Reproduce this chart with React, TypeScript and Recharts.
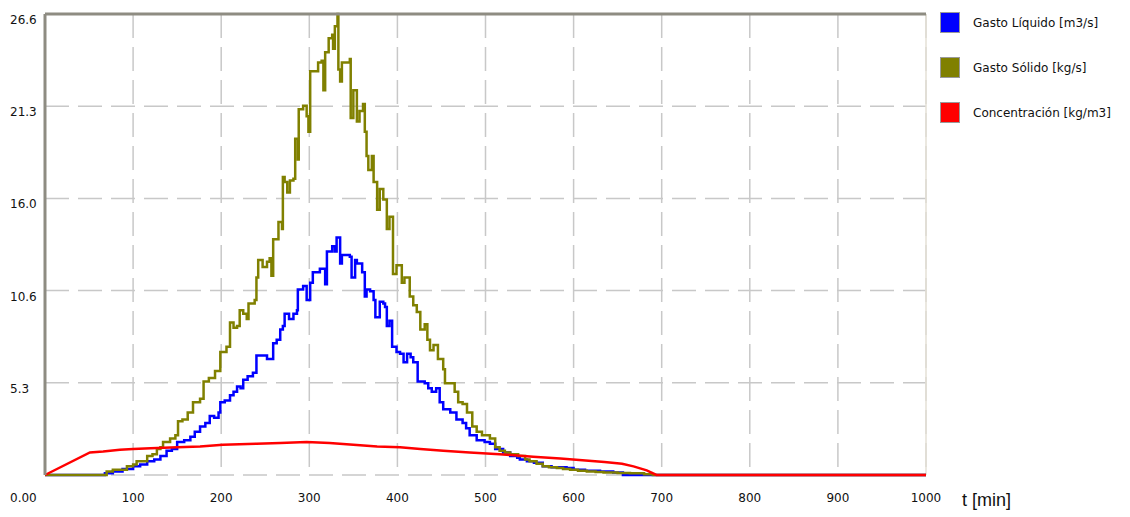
import { LineChart, Line, XAxis, YAxis, CartesianGrid, ReferenceLine } from 'recharts';

// Gasto líquido [m3/s]
const liquidT = [0, 60, 68, 77, 88, 100, 108, 116, 124, 131, 138, 144, 150, 158, 165, 170, 176, 182, 187, 192, 197, 199, 204, 210, 214, 218, 222, 225, 230, 236, 240, 248, 252, 255, 259, 263, 267, 270, 272, 277, 282, 286, 287, 293, 297, 301, 304, 312, 318, 320, 326, 329, 331, 335, 337, 346, 348, 352, 354, 360, 363, 365, 369, 373, 375, 380, 384, 386, 388, 391, 394, 399, 403, 407, 411, 415, 418, 423, 431, 435, 439, 444, 448, 452, 460, 467, 474, 478, 482, 490, 499, 505, 511, 520, 528, 536, 539, 547, 555, 565, 575, 592, 600, 613, 630, 645, 656, 1000];
const liquidV = [0, 0, 0.1, 0.2, 0.35, 0.5, 0.6, 0.8, 0.9, 1.1, 1.4, 1.5, 1.9, 2.0, 2.2, 2.5, 2.8, 3.0, 3.4, 3.3, 3.6, 4.2, 4.3, 4.6, 4.8, 5.1, 5.0, 5.5, 5.7, 5.9, 6.9, 6.9, 6.7, 6.7, 7.6, 7.8, 8.4, 8.6, 9.3, 9.0, 9.3, 9.5, 10.7, 10.9, 10.1, 11.1, 11.7, 11.9, 11.0, 12.9, 13.2, 12.9, 13.7, 12.2, 12.7, 12.6, 11.4, 12.4, 12.2, 11.7, 10.3, 10.7, 10.6, 10.1, 9.1, 10.0, 9.9, 9.7, 8.6, 8.9, 7.4, 7.1, 7.0, 6.5, 7.0, 6.8, 6.5, 5.4, 5.3, 5.0, 4.8, 5.0, 4.2, 3.8, 3.6, 3.2, 3.0, 2.7, 2.3, 2.0, 1.9, 1.8, 1.5, 1.3, 1.1, 1.0, 0.9, 0.8, 0.7, 0.5, 0.45, 0.4, 0.3, 0.25, 0.2, 0.15, 0, 0];

// Gasto sólido [kg/s]
const solidT = [0, 62, 70, 77, 93, 100, 104, 116, 122, 127, 131, 134, 142, 148, 151, 156, 162, 168, 176, 180, 186, 193, 199, 206, 210, 214, 218, 221, 225, 229, 231, 238, 240, 242, 247, 252, 255, 257, 259, 265, 269, 270, 272, 275, 278, 282, 284, 287, 288, 293, 297, 299, 301, 306, 310, 314, 316, 318, 322, 326, 327, 329, 332, 333, 335, 337, 346, 347, 350, 354, 357, 361, 363, 365, 367, 371, 373, 377, 380, 384, 388, 391, 395, 399, 405, 408, 414, 418, 422, 426, 431, 434, 437, 441, 446, 452, 454, 460, 465, 469, 474, 479, 485, 490, 496, 501, 505, 511, 516, 522, 528, 537, 545, 550, 558, 565, 572, 581, 588, 596, 605, 615, 625, 634, 650, 664, 680, 690, 1000];
const solidV = [0, 0, 0.2, 0.3, 0.5, 0.6, 0.8, 1.1, 1.2, 1.5, 1.6, 1.9, 2.1, 2.3, 3.1, 3.2, 3.6, 4.2, 4.4, 5.4, 5.6, 6.0, 7.1, 7.4, 8.8, 8.5, 8.6, 9.5, 9.3, 9.0, 9.9, 10.1, 11.4, 12.4, 12.0, 12.3, 12.5, 11.5, 13.6, 14.6, 14.2, 17.2, 16.9, 16.3, 17.0, 17.1, 19.4, 18.2, 21.1, 21.3, 20.7, 19.8, 23.3, 23.3, 23.8, 23.9, 22.2, 24.4, 25.2, 25.4, 24.6, 25.9, 26.6, 23.4, 22.7, 23.8, 24.0, 20.6, 22.2, 20.4, 21.0, 21.4, 19.8, 18.4, 17.6, 18.4, 16.9, 15.3, 16.5, 15.9, 14.2, 14.9, 11.6, 12.1, 11.1, 11.4, 10.3, 9.8, 9.4, 8.4, 8.7, 7.8, 7.2, 7.5, 6.7, 6.1, 5.3, 5.3, 4.8, 4.2, 4.1, 3.6, 2.8, 2.5, 2.3, 2.3, 2.1, 1.6, 1.4, 1.3, 1.2, 1.1, 0.9, 0.8, 0.65, 0.5, 0.45, 0.4, 0.35, 0.3, 0.25, 0.2, 0.18, 0.15, 0.12, 0.1, 0.05, 0, 0];

// Concentración [kg/m3]
const concT = [0, 51, 66, 85, 100, 120, 150, 176, 202, 240, 267, 297, 323, 350, 377, 403, 426, 452, 482, 516, 554, 585, 610, 635, 655, 668, 683, 694, 1000];
const concV = [0, 1.3, 1.35, 1.45, 1.5, 1.55, 1.6, 1.65, 1.75, 1.8, 1.85, 1.9, 1.85, 1.75, 1.65, 1.6, 1.5, 1.4, 1.3, 1.2, 1.05, 0.95, 0.85, 0.75, 0.65, 0.5, 0.27, 0, 0];

const xTicks = [0, 100, 200, 300, 400, 500, 600, 700, 800, 900, 1000];
const yTicks = [0, 5.32, 10.64, 15.96, 21.28, 26.6];

const legendItems = [
    { label: 'Gasto Líquido [m3/s]', color: '#0000ff' },
    { label: 'Gasto Sólido [kg/s]', color: '#808000' },
    { label: 'Concentración [kg/m3]', color: '#ff0000' },
];

const toRows = (ts: number[], vs: number[]) => ts.map((t, i) => ({ t, v: vs[i] }));

const FONT = '"DejaVu Sans", sans-serif';

const XTick = ({ x, payload }: any) => {
    if (payload.value === 0) {
        return (
            <text x={10} y={502} fontSize={12} fontFamily={FONT} fill='#111'>
                0.00
            </text>
        );
    }
    return (
        <text x={x} y={502} textAnchor='middle' fontSize={12} fontFamily={FONT} fill='#111'>
            {payload.value}
        </text>
    );
};

const YTick = ({ y, payload }: any) => {
    if (payload.value === 0) return null;
    return (
        <text x={10} y={y + 10} fontSize={12} fontFamily={FONT} fill='#111'>
            {payload.value.toFixed(1)}
        </text>
    );
};

export default function App() {
    const liquid = toRows(liquidT, liquidV);
    const solid = toRows(solidT, solidV);
    const conc = toRows(concT, concV);

    return (
        <div style={{ position: 'absolute', left: 0, top: 0, width: 1130, height: 517, background: '#fff' }}>
            <LineChart width={1130} height={517} margin={{ top: 14, right: 204, bottom: 12, left: 5 }}>
                <CartesianGrid stroke='#c8c8c8' strokeWidth={1.5} strokeDasharray='24 9' />
                <XAxis
                    dataKey='t'
                    type='number'
                    domain={[0, 1000]}
                    ticks={xTicks}
                    tick={<XTick />}
                    tickLine={false}
                    axisLine={false}
                    height={30}
                    allowDuplicatedCategory={false}
                />
                <YAxis
                    dataKey='v'
                    type='number'
                    domain={[0, 26.6]}
                    ticks={yTicks}
                    tick={<YTick />}
                    tickLine={false}
                    axisLine={{ stroke: '#8e8c82', strokeWidth: 3 }}
                    width={40}
                />
                <ReferenceLine x={1000} stroke='#e4e1d6' strokeWidth={1.5} />
                <Line data={liquid} dataKey='v' type='stepAfter' stroke='#0000ff' strokeWidth={2.5} dot={false} isAnimationActive={false} />
                <Line data={solid} dataKey='v' type='stepAfter' stroke='#808000' strokeWidth={2.5} dot={false} isAnimationActive={false} />
                <Line data={conc} dataKey='v' type='linear' stroke='#ff0000' strokeWidth={2.5} dot={false} isAnimationActive={false} />
                <ReferenceLine y={26.6} stroke='#8e8c82' strokeWidth={3} />
            </LineChart>
            <div style={{ position: 'absolute', left: 940, top: 12, fontFamily: FONT, fontSize: 12, color: '#111' }}>
                {legendItems.map((item, index) => (
                    <div key={`legend-${index}`} style={{ display: 'flex', alignItems: 'center', height: 21, marginBottom: 24 }}>
                        <div
                            style={{
                                width: 18,
                                height: 19,
                                backgroundColor: item.color,
                                border: '1px solid #9a9a9a',
                                marginRight: 13,
                            }}
                        />
                        {item.label}
                    </div>
                ))}
            </div>
            <div
                style={{
                    position: 'absolute',
                    left: 962,
                    top: 490,
                    fontFamily: '"Liberation Sans", Arial, sans-serif',
                    fontSize: 18,
                    color: '#111',
                }}
            >
                t [min]
            </div>
        </div>
    );
}
